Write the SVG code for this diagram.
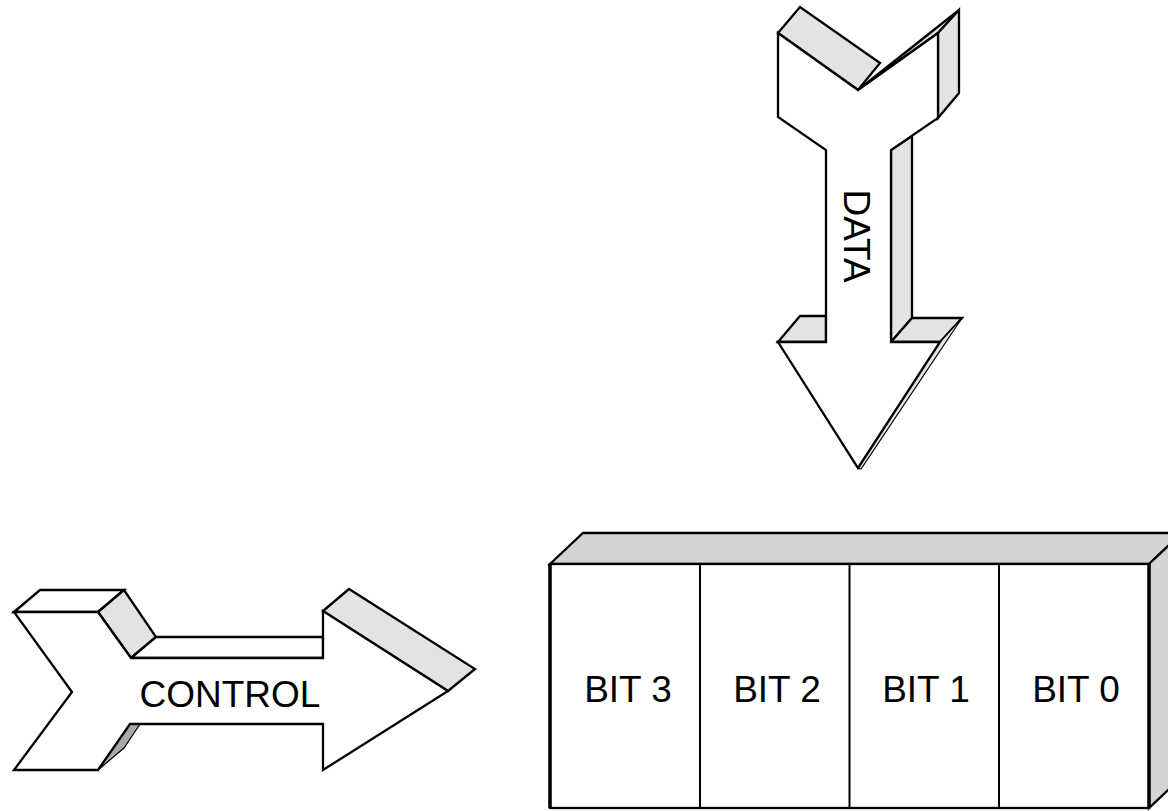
<svg xmlns="http://www.w3.org/2000/svg" width="1168" height="811" viewBox="0 0 1168 811">
  <style>
    .face { fill: #ffffff; stroke: #000; stroke-width: 2.3; stroke-linejoin: miter; }
    .side { fill: #e3e3e3; stroke: #000; stroke-width: 2.3; stroke-linejoin: miter; }
    .dark { fill: #a8a8a8; stroke: #000; stroke-width: 1.2; stroke-linejoin: miter; }
    .boxside { fill: #d4d4d4; stroke: #000; stroke-width: 2.3; }
    .label { font-family: "Liberation Sans", Arial, sans-serif; font-size: 37px; fill: #000; }
  </style>
  <rect width="1168" height="811" fill="#ffffff"/>

  <!-- DATA arrow, pointing down -->
  <g id="data-arrow">
    <polygon class="side" points="778,33 800,7 880,63 858,90"/>
    <polygon class="side" points="858,90 959,10 938,33"/>
    <polygon class="side" points="938,33 959,10 959,93 938,118"/>
    <polygon class="side" points="891,150 912,136 912,318 891,342"/>
    <polygon class="side" points="778,342 800,316 826,316 826,342"/>
    <polygon class="side" points="891,342 912,318 962,318 940,342"/>
    <polygon class="side" points="940,342 962,318 861,469 858,468" style="stroke-width:1.2"/>
    <polygon class="face" points="778,33 858,90 938,33 938,118 891,150 891,342 940,342 858,468 778,342 826,342 826,150 778,117"/>
    <text class="label" text-anchor="middle" transform="translate(844,236) rotate(90)">DATA</text>
  </g>

  <!-- CONTROL arrow, pointing right -->
  <g id="control-arrow">
    <polygon class="face" points="14,612 40,590 124,590 98,612"/>
    <polygon class="side" points="98,612 124,590 156,637 131,658"/>
    <polygon class="face" points="131,658 156,637 323,637 323,658"/>
    <polygon class="side" points="323,611 349,589 475,669 448,691"/>
    <polygon class="dark" points="98,770 130,724 140,724 124,748"/>
    <polygon class="face" points="14,612 98,612 131,658 323,658 323,611 448,691 323,770 323,724 130,724 98,770 14,770 72,692"/>
    <text class="label" x="230" y="707" text-anchor="middle">CONTROL</text>
  </g>

  <!-- four-bit register block -->
  <g id="register">
    <polygon class="boxside" points="550,564 583,533 1182,533 1149,564"/>
    <polygon class="boxside" points="1149,564 1182,533 1182,777 1149,808"/>
    <rect x="550" y="564" width="599" height="244" fill="#ffffff" stroke="#000" stroke-width="2.3"/>
    <line x1="550" y1="564" x2="550" y2="808" stroke="#000" stroke-width="3.5"/>
    <line x1="1149" y1="564" x2="1149" y2="808" stroke="#000" stroke-width="3.5"/>
  </g>
  <g id="bit3">
    <text class="label" x="628" y="702" text-anchor="middle">BIT 3</text>
  </g>
  <g id="bit2">
    <line x1="700" y1="564" x2="700" y2="808" stroke="#000" stroke-width="2"/>
    <text class="label" x="777" y="702" text-anchor="middle">BIT 2</text>
  </g>
  <g id="bit1">
    <line x1="849.5" y1="564" x2="849.5" y2="808" stroke="#000" stroke-width="2"/>
    <text class="label" x="926" y="702" text-anchor="middle">BIT 1</text>
  </g>
  <g id="bit0">
    <line x1="999" y1="564" x2="999" y2="808" stroke="#000" stroke-width="2"/>
    <text class="label" x="1076" y="702" text-anchor="middle">BIT 0</text>
  </g>
</svg>
